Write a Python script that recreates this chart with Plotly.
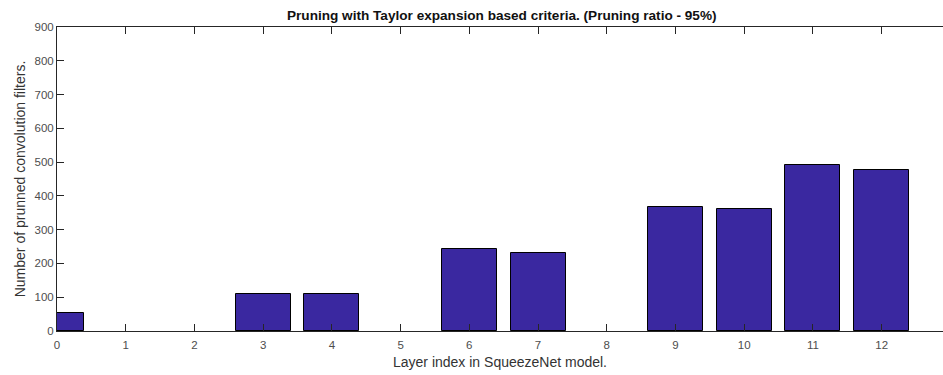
import plotly.graph_objects as go

# Pruned filters per SqueezeNet layer (Taylor criterion, 95% pruning ratio)
layers = [0, 1, 2, 3, 4, 5, 6, 7, 8, 9, 10, 11, 12]
pruned = [52, 0, 0, 109, 110, 0, 242, 230, 0, 366, 360, 492, 478]
y_ticks = [0, 100, 200, 300, 400, 500, 600, 700, 800, 900]

FONT = "Liberation Sans, Arial, Helvetica, sans-serif"
AXIS = "#262626"
TICKTXT = "#4d4d4d"

# empty layers get no outline so nothing is drawn on the baseline
edge_widths = [1 if v > 0 else 0 for v in pruned]

fig = go.Figure()
fig.add_trace(go.Bar(
    x=layers, y=pruned, width=0.8,
    marker=dict(color="#3a28a0", line=dict(color="#000000", width=edge_widths)),
    showlegend=False, hoverinfo="x+y",
))

fig.update_layout(
    width=943, height=375,
    margin=dict(l=57, r=0, t=27, b=44),
    paper_bgcolor="white", plot_bgcolor="white",
    font=dict(family=FONT, size=11, color=TICKTXT),
    bargap=0,
    title=dict(
        text="<b>Pruning with Taylor expansion based criteria. (Pruning ratio - 95%)</b>",
        x=0.502, xref="paper", xanchor="center",
        y=0.96, yref="container", yanchor="middle",
        font=dict(family=FONT, size=13.6, color="#111111"),
    ),
    xaxis=dict(
        range=[0, 12.893], tickmode="array", tickvals=layers,
        ticktext=[str(v) for v in layers],
        showgrid=False, zeroline=False,
        showline=True, linecolor=AXIS, linewidth=1, mirror="ticks",
        ticks="inside", ticklen=7, tickcolor=AXIS, tickwidth=1,
        ticklabelstandoff=3,
        tickfont=dict(size=11.5, color=TICKTXT),
        title=dict(text="Layer index in SqueezeNet model.", standoff=7,
                   font=dict(size=14, color="#333333")),
    ),
    yaxis=dict(
        range=[0, 900], tickmode="array", tickvals=y_ticks,
        showgrid=False, zeroline=False,
        showline=True, linecolor=AXIS, linewidth=1,
        ticks="inside", ticklen=7, tickcolor=AXIS, tickwidth=1,
        tickfont=dict(size=11.5, color=TICKTXT),
        title=dict(text="Number of prunned convolution filters.", standoff=5,
                   font=dict(size=14, color="#333333")),
    ),
    yaxis2=dict(
        overlaying="y", side="right", range=[0, 900],
        tickmode="array", tickvals=y_ticks, showticklabels=False,
        showgrid=False, zeroline=False, showline=False,
        ticks="inside", ticklen=3, tickcolor=AXIS, tickwidth=1,
    ),
)

fig.write_html("out.html")
